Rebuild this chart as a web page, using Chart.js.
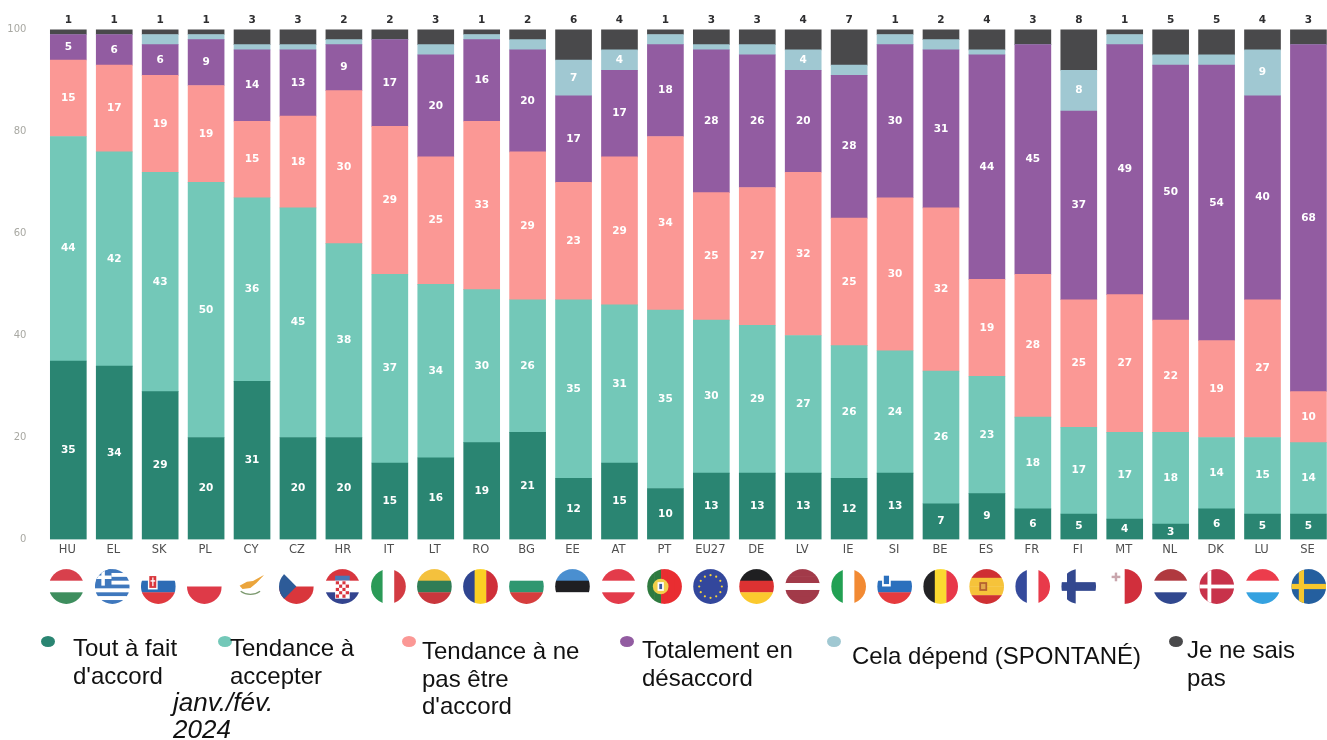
<!DOCTYPE html>
<html lang="fr">
<head>
<meta charset="utf-8">
<title>janv./fév. 2024</title>
<script src="https://cdn.jsdelivr.net/npm/chart.js@4/dist/chart.umd.js"></script>
<style>
    html, body { margin: 0; padding: 0; background: #fff; overflow: hidden; }
    #wrap { position: relative; width: 1327px; height: 740px; overflow: hidden; }
    canvas { display: block; }
    .legend-text {
        position: absolute;
        font-family: "Liberation Sans", Arial, sans-serif;
        font-size: 24px;
        line-height: 27.7px;
        color: #111;
        white-space: pre;
    }
    .legend-dot {
        position: absolute;
        width: 14px;
        height: 11px;
        border-radius: 50%;
        filter: blur(0.6px);
    }
    #period { font-size: 26px; font-style: italic; line-height: 27px; }
</style>
</head>
<body>
<div id="wrap"><canvas id="chart" width="1340" height="740"></canvas></div>
<script>
const countries = ['HU', 'EL', 'SK', 'PL', 'CY', 'CZ', 'HR', 'IT', 'LT', 'RO', 'BG', 'EE', 'AT', 'PT', 'EU27', 'DE', 'LV', 'IE', 'SI', 'BE', 'ES', 'FR', 'FI', 'MT', 'NL', 'DK', 'LU', 'SE'];

const toutAFait = [35, 34, 29, 20, 31, 20, 20, 15, 16, 19, 21, 12, 15, 10, 13, 13, 13, 12, 13, 7, 9, 6, 5, 4, 3, 6, 5, 5];
const tendanceAccepter = [44, 42, 43, 50, 36, 45, 38, 37, 34, 30, 26, 35, 31, 35, 30, 29, 27, 26, 24, 26, 23, 18, 17, 17, 18, 14, 15, 14];
const tendanceNePas = [15, 17, 19, 19, 15, 18, 30, 29, 25, 33, 29, 23, 29, 34, 25, 27, 32, 25, 30, 32, 19, 28, 25, 27, 22, 19, 27, 10];
const totalement = [5, 6, 6, 9, 14, 13, 9, 17, 20, 16, 20, 17, 17, 18, 28, 26, 20, 28, 30, 31, 44, 45, 37, 49, 50, 54, 40, 68];
const celaDepend = [0, 0, 2, 1, 1, 1, 1, 0, 2, 1, 2, 7, 4, 2, 1, 2, 4, 2, 2, 2, 1, 0, 8, 2, 2, 2, 9, 0];
const neSaisPas = [1, 1, 1, 1, 3, 3, 2, 2, 3, 1, 2, 6, 4, 1, 3, 3, 4, 7, 1, 2, 4, 3, 8, 1, 5, 5, 4, 3];

const seriesNames = ["Tout à fait\nd'accord", 'Tendance à\naccepter', "Tendance à ne\npas être\nd'accord", 'Totalement en\ndésaccord', 'Cela dépend (SPONTANÉ)', 'Je ne sais\npas'];
const seriesColors = ['#2a8572', '#73c8b8', '#fb9895', '#925ca1', '#a0c8d2', '#49494b'];
const yTicks = [0, 20, 40, 60, 80, 100];

const barFont = 'bold 10.5px "DejaVu Sans"';

// x of dot, y of dot, x of text, y of text
const legendSpots = [
    [41, 636, 73, 634],
    [218, 636, 230, 634],
    [402, 636, 422, 637],
    [620, 636, 642, 636],
    [827, 636, 852, 642],
    [1169, 636, 1187, 636]
];

// stripes of each flag: direction, then the colours in order
const flagStripes = {
    HU: ['h', '#d8404c', '#ffffff', '#3e8e5e'],
    EL: ['h', '#3f78bd', '#ffffff', '#3f78bd', '#ffffff', '#3f78bd', '#ffffff', '#3f78bd', '#ffffff', '#3f78bd'],
    SK: ['h', '#ffffff', '#2d6cb5', '#e0393f'],
    PL: ['h', '#ffffff', '#de3a48'],
    CY: ['h', '#ffffff'],
    CZ: ['h', '#ffffff', '#d9363c'],
    HR: ['h', '#d8363f', '#ffffff', '#33448f'],
    IT: ['v', '#2b9a57', '#ffffff', '#d33b42'],
    LT: ['h', '#f4c13d', '#2f7d56', '#c9373d'],
    RO: ['v', '#2f4590', '#fbd023', '#cf2f39'],
    BG: ['h', '#ffffff', '#2f9770', '#d63d3d'],
    EE: ['h', '#4a8fd0', '#1f1f22', '#ffffff'],
    AT: ['h', '#e33b4a', '#ffffff', '#e33b4a'],
    PT: ['v', '#2e7a3f', '#2e7a3f', '#e92d31', '#e92d31', '#e92d31'],
    EU27: ['h', '#33479c'],
    DE: ['h', '#1f1f21', '#dc3232', '#fbc92e'],
    LV: ['h', '#a23a49', '#a23a49', '#ffffff', '#a23a49', '#a23a49'],
    IE: ['v', '#22a053', '#ffffff', '#f28a33'],
    SI: ['h', '#ffffff', '#2b70bd', '#e63b3e'],
    BE: ['v', '#232325', '#fbd930', '#e8384a'],
    ES: ['h', '#cf3033', '#f6c33a', '#f6c33a', '#cf3033'],
    FR: ['v', '#354a9c', '#ffffff', '#e83a4a'],
    FI: ['h', '#ffffff'],
    MT: ['v', '#ffffff', '#d12f3c'],
    NL: ['h', '#b0393f', '#ffffff', '#31488f'],
    DK: ['h', '#c8324a'],
    LU: ['h', '#ec3c4c', '#ffffff', '#35a2e0'],
    SE: ['h', '#245f9f']
};

function crossFlag(ctx, r, color, w) {
    ctx.fillStyle = color;
    ctx.fillRect(-r, -w / 2, r * 2, w);
    ctx.fillRect(-r * 0.42 - w / 2, -r, w, r * 2);
}

// small details on top of the stripes, around the centre of the flag
const flagDetails = {
    EL(ctx, r) {
        ctx.fillStyle = '#3f78bd';
        ctx.fillRect(-r, -r, r * 0.95, r * 0.95);
        ctx.fillStyle = '#fff';
        ctx.fillRect(-r, -r * 0.63, r * 0.95, r * 0.2);
        ctx.fillRect(-r * 0.63, -r, r * 0.2, r * 0.95);
    },
    SK(ctx, r) {
        ctx.fillStyle = '#fff';
        ctx.fillRect(-r * 0.6, -r * 0.68, r * 0.56, r * 0.85);
        ctx.fillStyle = '#d9363c';
        ctx.fillRect(-r * 0.52, -r * 0.6, r * 0.4, r * 0.68);
        ctx.fillStyle = '#fff';
        ctx.fillRect(-r * 0.35, -r * 0.52, r * 0.07, r * 0.5);
        ctx.fillRect(-r * 0.45, -r * 0.36, r * 0.27, r * 0.08);
    },
    CY(ctx, r) {
        ctx.fillStyle = '#eba53c';
        ctx.beginPath();
        const island = [[-0.62, -0.05], [-0.2, -0.28], [0.15, -0.32], [0.8, -0.68], [0.35, -0.2], [0, 0.08], [-0.45, 0.15]];
        island.forEach(p => ctx.lineTo(p[0] * r, p[1] * r));
        ctx.fill();
        ctx.strokeStyle = '#7d9a70';
        ctx.lineWidth = 1.2;
        ctx.beginPath();
        ctx.arc(0, -r * 0.5, r * 0.95, Math.PI * 0.3, Math.PI * 0.7);
        ctx.stroke();
    },
    CZ(ctx, r) {
        ctx.fillStyle = '#2d5b98';
        ctx.beginPath();
        ctx.moveTo(-r, -r);
        ctx.lineTo(0, 0);
        ctx.lineTo(-r, r);
        ctx.fill();
    },
    HR(ctx, r) {
        ctx.fillStyle = '#fff';
        ctx.fillRect(-r * 0.42, -r * 0.35, r * 0.84, r * 1.05);
        for (let row = 0; row < 5; row++) {
            for (let col = 0; col < 4; col++) {
                ctx.fillStyle = (row + col) % 2 ? '#fff' : '#d8363f';
                ctx.fillRect(-r * 0.38 + col * r * 0.19, -r * 0.3 + row * r * 0.19, r * 0.19, r * 0.19);
            }
        }
        ctx.fillStyle = '#4a78b8';
        ctx.fillRect(-r * 0.42, -r * 0.62, r * 0.84, r * 0.27);
    },
    PT(ctx, r) {
        ctx.fillStyle = '#f2cf4a';
        ctx.beginPath();
        ctx.arc(-r * 0.22, 0, r * 0.45, 0, Math.PI * 2);
        ctx.fill();
        ctx.fillStyle = '#fff';
        ctx.fillRect(-r * 0.4, -r * 0.25, r * 0.36, r * 0.5);
        ctx.fillStyle = '#3a5aa0';
        ctx.fillRect(-r * 0.3, -r * 0.15, r * 0.16, r * 0.3);
    },
    EU27(ctx, r) {
        ctx.fillStyle = '#f4d23b';
        for (let i = 0; i < 12; i++) {
            const a = i * Math.PI / 6;
            ctx.beginPath();
            ctx.arc(Math.cos(a) * r * 0.65, Math.sin(a) * r * 0.65, 1.1, 0, Math.PI * 2);
            ctx.fill();
        }
    },
    SI(ctx, r) {
        ctx.fillStyle = '#fff';
        ctx.fillRect(-r * 0.72, -r * 0.72, r * 0.5, r * 0.72);
        ctx.fillStyle = '#2b70bd';
        ctx.fillRect(-r * 0.62, -r * 0.62, r * 0.3, r * 0.48);
    },
    ES(ctx, r) {
        ctx.fillStyle = '#b5602f';
        ctx.fillRect(-r * 0.42, -r * 0.25, r * 0.45, r * 0.5);
        ctx.fillStyle = '#e3a84a';
        ctx.fillRect(-r * 0.32, -r * 0.15, r * 0.25, r * 0.3);
    },
    FI(ctx, r) {
        crossFlag(ctx, r, '#33488f', r * 0.5);
    },
    MT(ctx, r) {
        ctx.fillStyle = '#c9a6ad';
        ctx.fillRect(-r * 0.75, -r * 0.62, r * 0.5, r * 0.14);
        ctx.fillRect(-r * 0.57, -r * 0.8, r * 0.14, r * 0.5);
    },
    DK(ctx, r) {
        crossFlag(ctx, r, '#ffffff', r * 0.22);
    },
    SE(ctx, r) {
        crossFlag(ctx, r, '#f6c72d', r * 0.3);
    }
};

function drawFlag(ctx, code, x, y, r) {
    const [dir, ...colors] = flagStripes[code];
    ctx.save();
    ctx.translate(x, y);
    ctx.beginPath();
    ctx.arc(0, 0, r, 0, Math.PI * 2);
    ctx.clip();
    const band = r * 2 / colors.length;
    colors.forEach((c, i) => {
        ctx.fillStyle = c;
        if (dir === 'h') ctx.fillRect(-r, -r + i * band, r * 2, band + 0.3);
        else ctx.fillRect(-r + i * band, -r, band + 0.3, r * 2);
    });
    if (flagDetails[code]) flagDetails[code](ctx, r);
    ctx.restore();
}

const flagsPlugin = {
    id: 'flags',
    afterDraw(chart) {
        const xScale = chart.scales.x;
        countries.forEach((code, i) => {
            drawFlag(chart.ctx, code, xScale.getPixelForTick(i) - 2 + 2.3 * i / 27, 586.5, 17.4);
        });
    }
};

const barLabelsPlugin = {
    id: 'barLabels',
    afterDatasetsDraw(chart) {
        const ctx = chart.ctx;
        ctx.save();
        ctx.font = barFont;
        ctx.textAlign = 'center';
        ctx.textBaseline = 'middle';
        chart.data.datasets.forEach((ds, d) => {
            chart.getDatasetMeta(d).data.forEach((bar, i) => {
                const value = ds.data[i];
                if (d === 5) {
                    ctx.fillStyle = '#2e2e30';
                    ctx.fillText(value, bar.x, bar.y - 9);
                } else if (d < 4 || value >= 4) {
                    // the light blue band only gets a number when it is wide enough
                    ctx.fillStyle = '#ffffff';
                    ctx.fillText(value, bar.x, (bar.y + bar.base) / 2);
                }
            });
        });
        ctx.restore();
    }
};

const seriesValues = [toutAFait, tendanceAccepter, tendanceNePas, totalement, celaDepend, neSaisPas];

new Chart(document.getElementById('chart'), {
    type: 'bar',
    data: {
        labels: countries,
        datasets: seriesValues.map((values, i) => ({
            label: seriesNames[i].replace(/\n/g, ' '),
            data: values,
            backgroundColor: seriesColors[i],
            barThickness: 36,
            borderWidth: 0
        }))
    },
    options: {
        responsive: false,
        animation: false,
        layout: { padding: { top: 29.4, right: 8.6, left: 0, bottom: 0 } },
        plugins: { legend: { display: false }, tooltip: { enabled: false } },
        scales: {
            x: {
                stacked: true,
                grid: { display: false, drawTicks: false },
                border: { display: false },
                ticks: {
                    autoSkip: false,
                    maxRotation: 0,
                    padding: 4,
                    labelOffset: -1,
                    color: '#4f4f4f',
                    font: { family: '"DejaVu Sans"', size: 11.5 }
                },
                afterFit(scale) { scale.height = 200.5; }
            },
            y: {
                stacked: true,
                min: 0,
                max: 100,
                grid: { display: false, drawTicks: false },
                border: { display: false },
                afterBuildTicks(scale) { scale.ticks = yTicks.map(v => ({ value: v })); },
                ticks: {
                    padding: 19,
                    color: '#a8a8a2',
                    font: { family: '"DejaVu Sans"', size: 10 }
                },
                afterFit(scale) { scale.width = 45.35; }
            }
        }
    },
    plugins: [barLabelsPlugin, flagsPlugin]
});

const wrap = document.getElementById('wrap');
seriesNames.forEach((name, i) => {
    const [dotX, dotY, textX, textY] = legendSpots[i];
    const dot = document.createElement('div');
    dot.className = 'legend-dot';
    dot.style.left = dotX + 'px';
    dot.style.top = dotY + 'px';
    dot.style.background = seriesColors[i];
    wrap.appendChild(dot);

    const text = document.createElement('div');
    text.className = 'legend-text';
    text.style.left = textX + 'px';
    text.style.top = textY + 'px';
    text.textContent = name;
    wrap.appendChild(text);
});

const period = document.createElement('div');
period.className = 'legend-text';
period.id = 'period';
period.style.left = '173px';
period.style.top = '689px';
period.textContent = 'janv./fév.\n2024';
wrap.appendChild(period);
</script>
</body>
</html>
